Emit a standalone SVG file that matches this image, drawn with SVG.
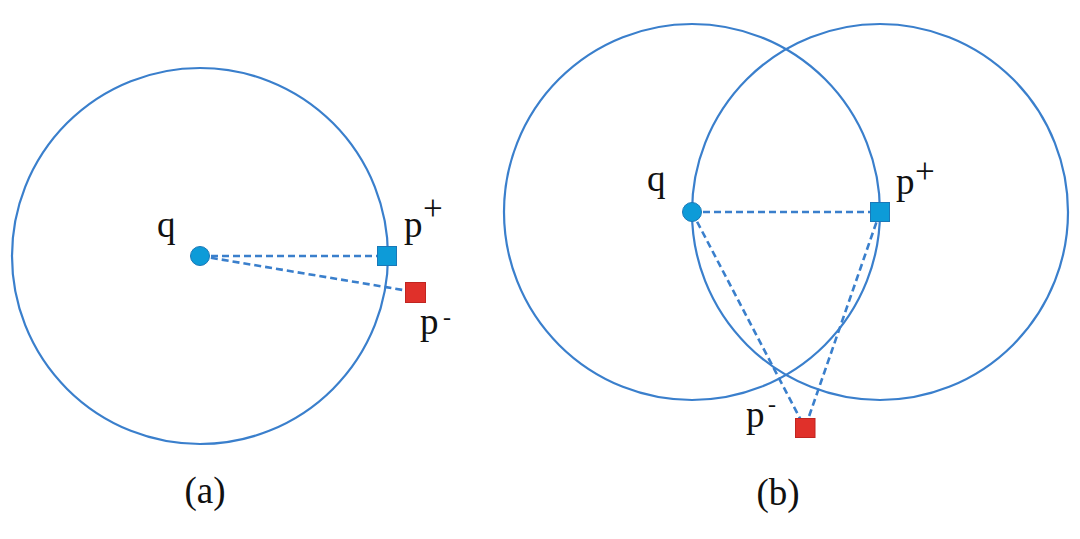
<svg xmlns="http://www.w3.org/2000/svg" width="1080" height="539" viewBox="0 0 1080 539">
<style>
.circ{fill:none;stroke:#3a7fcc;stroke-width:2.2}
.dash{stroke:#3a7fcc;stroke-width:2.6;stroke-dasharray:7 4;fill:none}
.pos{fill:#0d9bd8;stroke:#1a78b8;stroke-width:1}
.neg{fill:#e0302a;stroke:#c02520;stroke-width:1}
.t{font-family:"Liberation Serif","Times New Roman",serif;fill:#111}
</style>
<rect width="1080" height="539" fill="#fff"/>
<g id="connectors">
<line class="dash" x1="200" y1="256" x2="387" y2="256"/>
<line class="dash" x1="200" y1="256" x2="415" y2="292"/>
<line class="dash" x1="692" y1="212" x2="880" y2="212"/>
<line class="dash" x1="692" y1="212" x2="805" y2="428"/>
<line class="dash" x1="880" y1="212" x2="805" y2="428"/>
</g>
<g id="circle-a"><circle class="circ" cx="200" cy="256" r="188"/></g>
<g id="circle-b1"><circle class="circ" cx="692" cy="212" r="188"/></g>
<g id="circle-b2"><circle class="circ" cx="880" cy="212" r="188"/></g>
<g id="q-a"><circle class="pos" cx="200" cy="256" r="9.5"/><text class="t" x="157" y="237" font-size="37">q</text></g>
<g id="pplus-a"><rect class="pos" x="377.5" y="246.5" width="19" height="19"/><text class="t" x="404" y="237" font-size="37">p</text><text class="t" x="423" y="220" font-size="35">+</text></g>
<g id="pminus-a"><rect class="neg" x="405.5" y="282.5" width="20" height="20"/><text class="t" x="420" y="334" font-size="37">p</text><text class="t" x="443" y="325" font-size="24">-</text></g>
<g id="q-b"><circle class="pos" cx="692" cy="212" r="9.5"/><text class="t" x="647" y="191" font-size="37">q</text></g>
<g id="pplus-b"><rect class="pos" x="870.5" y="202.5" width="19" height="19"/><text class="t" x="896" y="194" font-size="37">p</text><text class="t" x="915" y="183" font-size="35">+</text></g>
<g id="pminus-b"><rect class="neg" x="795.5" y="418.5" width="19.5" height="19"/><text class="t" x="746" y="427" font-size="37">p</text><text class="t" x="768" y="412" font-size="24">-</text></g>
<g id="label-a"><text class="t" x="205" y="503" font-size="37" text-anchor="middle">(a)</text></g>
<g id="label-b"><text class="t" x="778" y="505" font-size="37" text-anchor="middle">(b)</text></g>
</svg>
